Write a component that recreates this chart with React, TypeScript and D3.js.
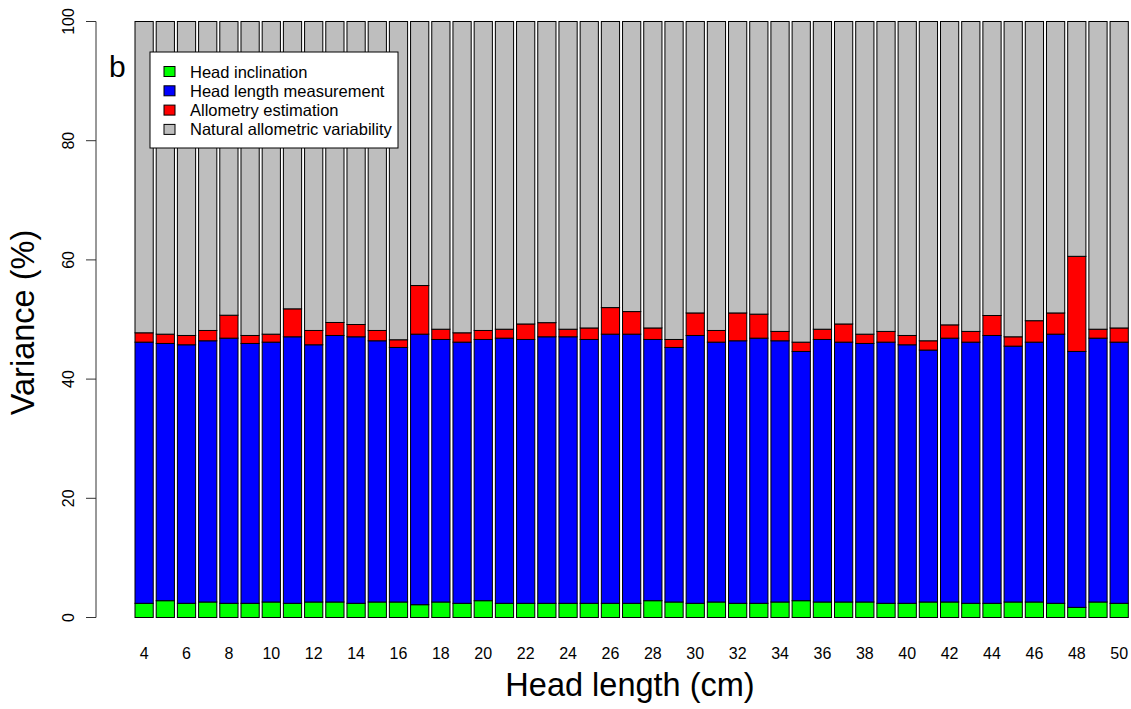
import React from "react";
import * as d3 from "d3";

const headLength = [4, 5, 6, 7, 8, 9, 10, 11, 12, 13, 14, 15, 16, 17, 18, 19, 20, 21, 22, 23, 24, 25, 26, 27, 28, 29, 30, 31, 32, 33, 34, 35, 36, 37, 38, 39, 40, 41, 42, 43, 44, 45, 46, 47, 48, 49, 50];

const headInclination = [2.38, 2.82, 2.38, 2.6, 2.38, 2.38, 2.6, 2.38, 2.6, 2.6, 2.38, 2.6, 2.6, 2.15, 2.6, 2.38, 2.82, 2.38, 2.38, 2.38, 2.38, 2.38, 2.38, 2.38, 2.82, 2.6, 2.38, 2.6, 2.38, 2.38, 2.6, 2.82, 2.6, 2.6, 2.6, 2.38, 2.38, 2.6, 2.6, 2.38, 2.38, 2.6, 2.6, 2.38, 1.7, 2.6, 2.38];

const headLengthMeasurement = [43.82, 43.16, 43.38, 43.83, 44.49, 43.6, 43.6, 44.72, 43.16, 44.72, 44.72, 43.83, 42.71, 45.39, 44.05, 43.82, 43.83, 44.49, 44.27, 44.72, 44.72, 44.27, 45.16, 45.16, 43.83, 42.71, 44.94, 43.6, 44.05, 44.49, 43.83, 41.82, 44.05, 43.6, 43.38, 43.82, 43.38, 42.27, 44.27, 43.82, 44.94, 42.93, 43.6, 45.16, 42.94, 44.27, 43.82];

const allometryEstimation = [1.57, 1.56, 1.56, 1.73, 3.85, 1.34, 1.34, 4.69, 2.4, 2.18, 2.06, 1.73, 1.29, 8.16, 1.72, 1.57, 1.51, 1.5, 2.6, 2.37, 1.27, 1.93, 4.46, 3.79, 1.93, 1.34, 3.78, 1.96, 4.67, 4.03, 1.57, 1.56, 1.72, 3.05, 1.56, 1.8, 1.56, 1.56, 2.23, 1.8, 3.35, 1.57, 3.6, 3.56, 15.96, 1.5, 2.38];

const naturalAllometricVariability = [52.23, 52.46, 52.68, 51.84, 49.28, 52.68, 52.46, 48.21, 51.84, 50.5, 50.84, 51.84, 53.4, 44.3, 51.63, 52.23, 51.84, 51.63, 50.75, 50.53, 51.63, 51.42, 48.0, 48.67, 51.42, 53.35, 48.9, 51.84, 48.9, 49.1, 52.0, 53.8, 51.63, 50.75, 52.46, 52.0, 52.68, 53.57, 50.9, 52.0, 49.33, 52.9, 50.2, 48.9, 39.4, 51.63, 51.42];

const seriesKeys = ["inclination", "measurement", "allometry", "natural"];
const seriesLabels = ["Head inclination", "Head length measurement", "Allometry estimation", "Natural allometric variability"];
const seriesColors = ["#00FF00", "#0000FF", "#FF0000", "#BEBEBE"];

const yTicks = [0, 20, 40, 60, 80, 100];
const xTickLabels = [4, 6, 8, 10, 12, 14, 16, 18, 20, 22, 24, 26, 28, 30, 32, 34, 36, 38, 40, 42, 44, 46, 48, 50];

const W = 1131;
const H = 709;
const FONT = "'Liberation Sans', Arial, sans-serif";

export default function App() {
  const rows = headLength.map((h, i) => ({
    h,
    inclination: headInclination[i],
    measurement: headLengthMeasurement[i],
    allometry: allometryEstimation[i],
    natural: naturalAllometricVariability[i],
  }));
  const stacked = d3.stack<any>().keys(seriesKeys)(rows);

  const x = d3
    .scaleBand<number>()
    .domain(headLength)
    .range([135, 1128.3])
    .paddingInner(0.14)
    .paddingOuter(0);
  const y = d3.scaleLinear().domain([0, 100]).range([617.5, 21.5]);

  const axisX = 96;
  const legend = { x: 150, y: 52, w: 248, h: 96 };

  return (
    <svg
      width={W}
      height={H}
      style={{ position: "absolute", left: 0, top: 0, background: "#fff" }}
      fontFamily={FONT}
    >
      {/* bars */}
      {stacked.map((s, si) => (
        <g key={seriesKeys[si]} fill={seriesColors[si]} stroke="#000" strokeWidth={1}>
          {s.map((d, i) => (
            <rect
              key={i}
              x={x(headLength[i])!}
              y={y(d[1])}
              width={x.bandwidth()}
              height={y(d[0]) - y(d[1])}
            />
          ))}
        </g>
      ))}

      {/* y axis */}
      <line x1={axisX} x2={axisX} y1={y(0)} y2={y(100)} stroke="#333" strokeWidth={1} />
      {yTicks.map((t) => (
        <g key={t}>
          <line x1={axisX - 10} x2={axisX} y1={y(t)} y2={y(t)} stroke="#333" strokeWidth={1} />
          <text
            transform={`translate(${74},${y(t)}) rotate(-90)`}
            textAnchor="middle"
            fontSize={16}
            fill="#000"
          >
            {t}
          </text>
        </g>
      ))}

      {/* x tick labels */}
      {xTickLabels.map((t) => (
        <text
          key={t}
          x={x(t)! + x.bandwidth() / 2}
          y={659}
          textAnchor="middle"
          fontSize={16}
          fill="#000"
        >
          {t}
        </text>
      ))}

      {/* axis titles */}
      <text x={630} y={696} textAnchor="middle" fontSize={32.5} fill="#000">
        Head length (cm)
      </text>
      <text
        transform={`translate(${34},${y(50) + 3}) rotate(-90)`}
        textAnchor="middle"
        fontSize={32.5}
        fill="#000"
      >
        Variance (%)
      </text>

      {/* panel letter */}
      <text x={109} y={77} fontSize={30} fill="#000">
        b
      </text>

      {/* legend */}
      <rect x={legend.x} y={legend.y} width={legend.w} height={legend.h} fill="#fff" stroke="#000" strokeWidth={1} />
      {seriesLabels.map((lab, i) => (
        <g key={lab}>
          <rect
            x={164}
            y={66.5 + i * 19.3}
            width={11}
            height={10}
            fill={seriesColors[i]}
            stroke="#000"
            strokeWidth={1}
          />
          <text x={190} y={77.5 + i * 19.3} fontSize={16.5} fill="#000">
            {lab}
          </text>
        </g>
      ))}
    </svg>
  );
}
